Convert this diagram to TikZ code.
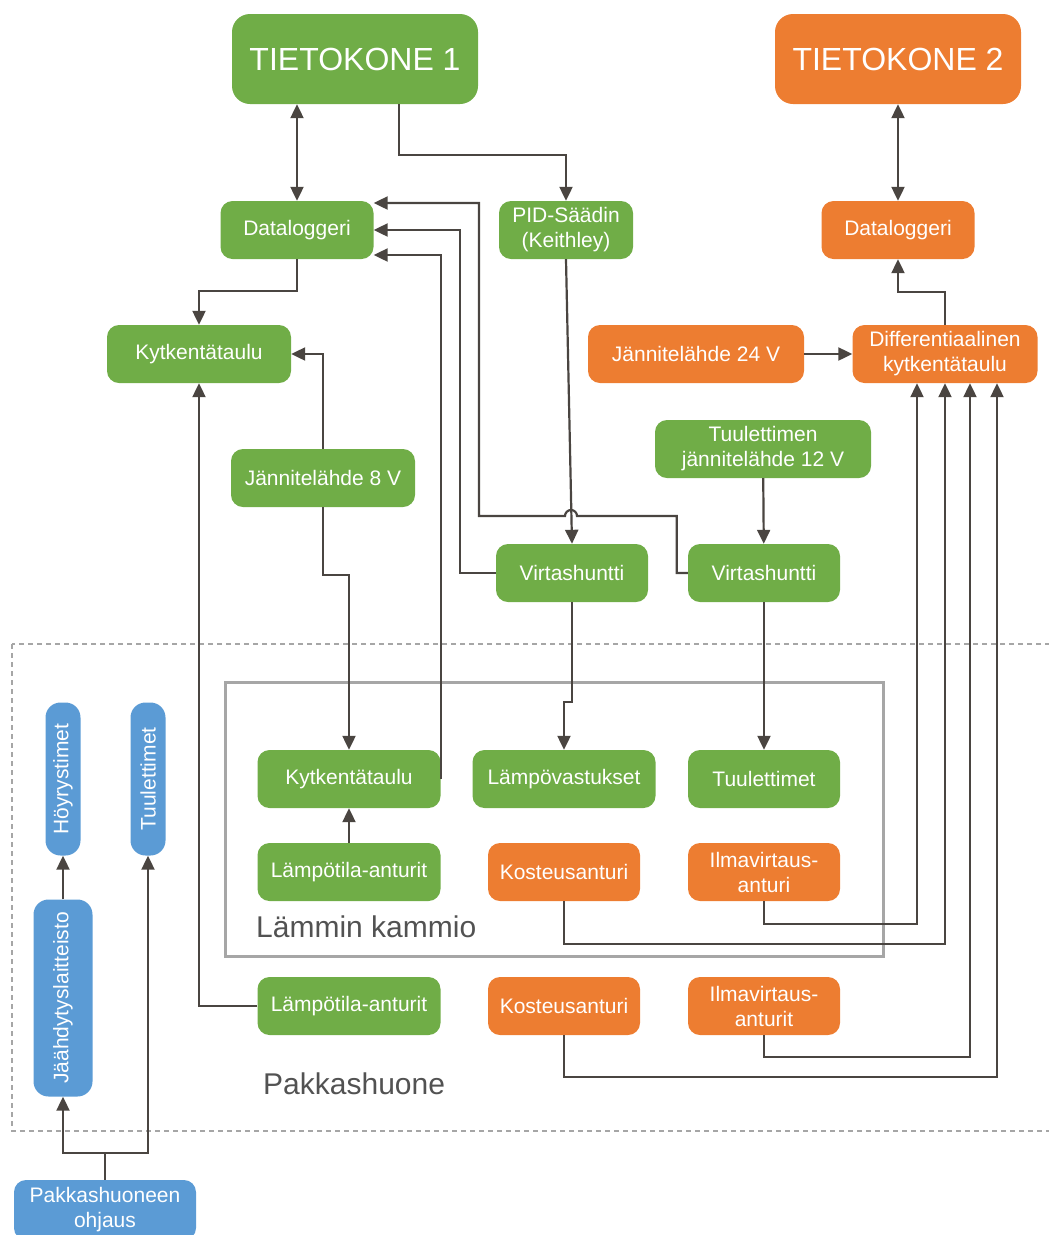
\documentclass[tikz,border=0pt]{standalone}
\usepackage{fontspec}
\setmainfont{Liberation Sans}
\usetikzlibrary{arrows.meta,positioning}
\definecolor{tkgreen}{HTML}{70AD47}
\definecolor{tkorange}{HTML}{ED7D31}
\definecolor{tkblue}{HTML}{5B9BD5}
\definecolor{wirecol}{HTML}{4A4541}
\definecolor{framecol}{HTML}{A6A6A6}

\begin{document}
\begin{tikzpicture}[x=1pt, y=-1pt,
  box/.style={rounded corners=12pt, text=white, align=center, inner sep=2pt,
              minimum height=58pt, font=\fontsize{21}{25}\selectfont},
  grn/.style={box, fill=tkgreen},
  org/.style={box, fill=tkorange},
  blu/.style={box, fill=tkblue, rounded corners=15pt, minimum height=35pt},
  big/.style={minimum width=246pt, minimum height=90pt, rounded corners=18pt,
              font=\fontsize{32}{38}\selectfont},
  lbl/.style={font=\fontsize{30}{36}\selectfont, text=black!68, anchor=west,
              inner sep=0pt},
  arr/.style={-{Triangle[length=14pt,width=13pt]}, line width=2.2pt, draw=wirecol},
  dbl/.style={{Triangle[length=14pt,width=13pt]}-{Triangle[length=14pt,width=13pt]},
              line width=2.2pt, draw=wirecol},
]
  \useasboundingbox (0,0) rectangle (1049,1235);

  % ── Rooms ───────────────────────
  \draw[framecol, line width=2pt, dash pattern=on 5pt off 4pt]
        (12,644) rectangle (1070,1131);
  \draw[framecol, line width=3pt] (225,682) rectangle (883,956);

  % ── Computers ───────────────────
  \node[grn, big] (tk1) at (355,59) {TIETOKONE 1};
  \node[org, big] (tk2) at (898,59) {TIETOKONE 2};
  \node[grn, minimum width=153pt] (dl1) at (297,230) {Dataloggeri};
  \node[grn, minimum width=134pt] (pid) at (566,230) {PID-Säädin\\(Keithley)};
  \node[org, minimum width=153pt] (dl2) at (898,230) {Dataloggeri};

  % ── Supplies and shunts ─────────
  \node[grn, minimum width=184pt] (kt1) at (199,354) {Kytkentätaulu};
  \node[org, minimum width=216pt] (j24) at (696,354) {Jännitelähde 24 V};
  \node[org, minimum width=185pt] (dif) at (945,354)
        {Differentiaalinen\\kytkentätaulu};
  \node[grn, minimum width=216pt] (j12) at (763,449)
        {Tuulettimen\\jännitelähde 12 V};
  \node[grn, minimum width=184pt] (j8) at (323,478) {Jännitelähde 8 V};
  \node[grn, minimum width=152pt] (vs1) at (572,573) {Virtashuntti};
  \node[grn, minimum width=152pt] (vs2) at (764,573) {Virtashuntti};

  % ── Lämmin kammio ───────────────
  \node[grn, minimum width=183pt] (kt2) at (349,779) {Kytkentätaulu};
  \node[grn, minimum width=183pt] (lv) at (564,779) {Lämpövastukset};
  \node[grn, minimum width=152pt] (tu) at (764,779) {Tuulettimet};
  \node[grn, minimum width=183pt] (lt1) at (349,872) {Lämpötila-anturit};
  \node[org, minimum width=152pt] (ks1) at (564,872) {Kosteusanturi};
  \node[org, minimum width=152pt] (iv1) at (764,872) {Ilmavirtaus-\\anturi};
  \node[lbl] (lk) at (256,927) {Lämmin kammio};

  % ── Pakkashuone ─────────────────
  \node[grn, minimum width=183pt] (lt2) at (349,1006) {Lämpötila-anturit};
  \node[org, minimum width=152pt] (ks2) at (564,1006) {Kosteusanturi};
  \node[org, minimum width=152pt] (iv2) at (764,1006) {Ilmavirtaus-\\anturit};
  \node[lbl] (ph) at (263,1084) {Pakkashuone};

  \node[blu, rotate=90, minimum width=153pt] (hoy) at (63,779) {Höyrystimet};
  \node[blu, rotate=90, minimum width=153pt] (tub) at (148,779) {Tuulettimet};
  \node[blu, rotate=90, minimum width=197pt, minimum height=59pt] (jaa)
        at (63,998) {Jäähdytyslaitteisto};
  \node[blu, minimum width=182pt, minimum height=60pt, rounded corners=12pt]
        (ohj) at (105,1210) {Pakkashuoneen\\ohjaus};

  % ── Arrows ──────────────────────
  \draw[dbl] (tk1.south -| dl1.north) -- (dl1.north);
  \draw[arr] ([xshift=44pt]tk1.south) -- ++(0,51) -| (pid.north);
  \draw[dbl] (tk2) -- (dl2);
  \draw[arr] (dl1.south) -- ++(0,32) -| (kt1.north);
  \draw[arr] (j8.north) |- (kt1.east);
  \draw[arr] (j8.south) -- ++(0,68) -| (kt2.north);
  \draw[arr] (lt2.west) -| (kt1.south);
  \draw[arr] (lt1) -- (kt2);
  \draw[arr] (kt2.east) |- ([yshift=-25pt]dl1.east);
  \draw[arr] (vs1.west) -- ++(-36,0) |- (dl1.east);
  \draw[arr] (vs2.west) -- ++(-11,0) |- (577,516)
        arc[start angle=0, end angle=180, radius=6pt]
        -- (479,516) |- ([yshift=27pt]dl1.east);
  \draw[arr] (pid.south) -- (vs1.north);
  \draw[arr] (j12) -- (vs2);
  \draw[arr] (vs1.south) -- ++(0,100) -| (lv.north);
  \draw[arr] (vs2) -- (tu);
  \draw[arr] (j24) -- (dif);
  \draw[arr] (dif.north) -- ++(0,-33) -| (dl2.south);
  \draw[arr] (iv1.south) -- ++(0,23) -| ([xshift=-28pt]dif.south);
  \draw[arr] (ks1.south) -- ++(0,43) -| (dif.south);
  \draw[arr] (iv2.south) -- ++(0,22) -| ([xshift=25pt]dif.south);
  \draw[arr] (ks2.south) -- ++(0,42) -| ([xshift=52pt]dif.south);
  \draw[arr] (jaa) -- (hoy);
  \draw[wirecol, line width=2.2pt] (ohj.north) -- ++(0,-27) coordinate (sp);
  \draw[arr] (sp) -| (jaa);
  \draw[arr] (sp) -| (tub);
\end{tikzpicture}
\end{document}
